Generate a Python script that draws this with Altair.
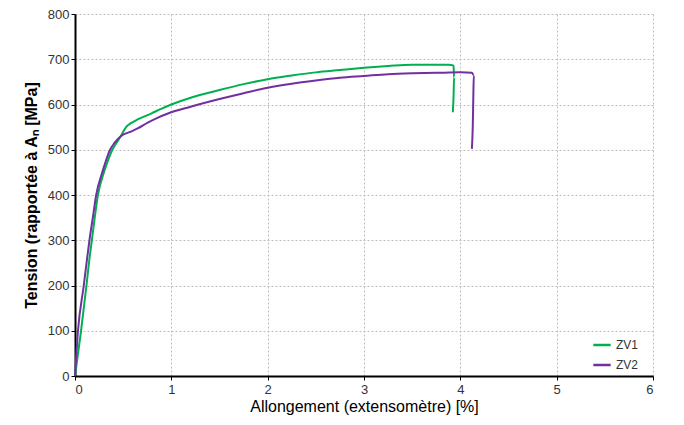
import altair as alt
import pandas as pd

zv1_x = [0.0, 0.063, 0.119, 0.145, 0.175, 0.205, 0.238, 0.30, 0.34, 0.388, 0.43, 0.475, 0.53, 0.59, 0.65, 0.79, 0.9, 1.0, 1.2, 1.5, 1.75, 2.0, 2.25, 2.5, 2.75, 3.0, 3.25, 3.5, 3.88, 3.93, 3.935, 3.93, 3.922]
zv1_y = [0, 100, 200, 250, 300, 350, 400, 450, 475, 500, 515, 530, 550, 560, 567, 580, 591, 600, 615, 632, 645, 656, 664, 671, 676, 681, 685, 688, 688, 686, 660, 620, 583]
zv2_x = [0.0, 0.031, 0.091, 0.12, 0.15, 0.185, 0.22, 0.283, 0.32, 0.364, 0.41, 0.475, 0.58, 0.65, 0.755, 0.85, 0.965, 1.2, 1.5, 1.75, 2.0, 2.25, 2.5, 2.75, 3.0, 3.25, 3.5, 3.75, 4.0, 4.12, 4.14, 4.135, 4.13, 4.12]
zv2_y = [0, 100, 200, 250, 300, 350, 400, 450, 475, 500, 515, 530, 540, 547, 560, 570, 580, 595, 612, 625, 637, 646, 653, 659, 663, 667, 669, 670, 671, 670, 665, 620, 560, 502]

series = ["ZV1", "ZV2"]
colors = ["#00B050", "#7030A0"]

rows = []
for name, xs, ys in [("ZV1", zv1_x, zv1_y), ("ZV2", zv2_x, zv2_y)]:
    for i, (x, y) in enumerate(zip(xs, ys)):
        rows.append({"serie": name, "x": x, "y": y, "i": i})
df = pd.DataFrame(rows)

chart = alt.Chart(df).mark_line(strokeWidth=2, interpolate="monotone").encode(
    x=alt.X("x:Q", scale=alt.Scale(domain=[0, 6], nice=False),
            axis=alt.Axis(values=[0, 1, 2, 3, 4, 5, 6], title="Allongement (extensomètre) [%]",
                          titleFontWeight="normal", titleFontSize=16, titlePadding=2, labelPadding=3)),
    y=alt.Y("y:Q", scale=alt.Scale(domain=[0, 800], nice=False),
            axis=alt.Axis(values=list(range(0, 801, 100)), title="Tension (rapportée à Aₙ [MPa]",
                          titleFontWeight="bold", titleFontSize=16, titlePadding=8)),
    color=alt.Color("serie:N", scale=alt.Scale(domain=series, range=colors),
                    legend=alt.Legend(title=None, orient="none", legendX=517, legendY=321,
                                      symbolType="stroke", symbolStrokeWidth=2.5, symbolSize=300,
                                      labelFontSize=12, labelColor="#333333", rowPadding=4)),
    order="i:Q",
).properties(
    width=578, height=362,
    autosize=alt.AutoSizeParams(type="none"),
    padding={"left": 67, "top": 6, "right": 8, "bottom": 43},
).configure_axis(
    grid=True, gridColor="#bdbdbd", gridDash=[2, 2], gridWidth=1,
    domainColor="black", domainWidth=2, tickColor="black", tickSize=4,
    labelFont="Liberation Sans", titleFont="Liberation Sans",
    labelFontSize=13, labelColor="#333333", titleColor="black",
).configure_legend(
    labelFont="Liberation Sans",
).configure_view(stroke=None)

chart.save("out.html", embed_options={"renderer": "svg", "actions": False})
